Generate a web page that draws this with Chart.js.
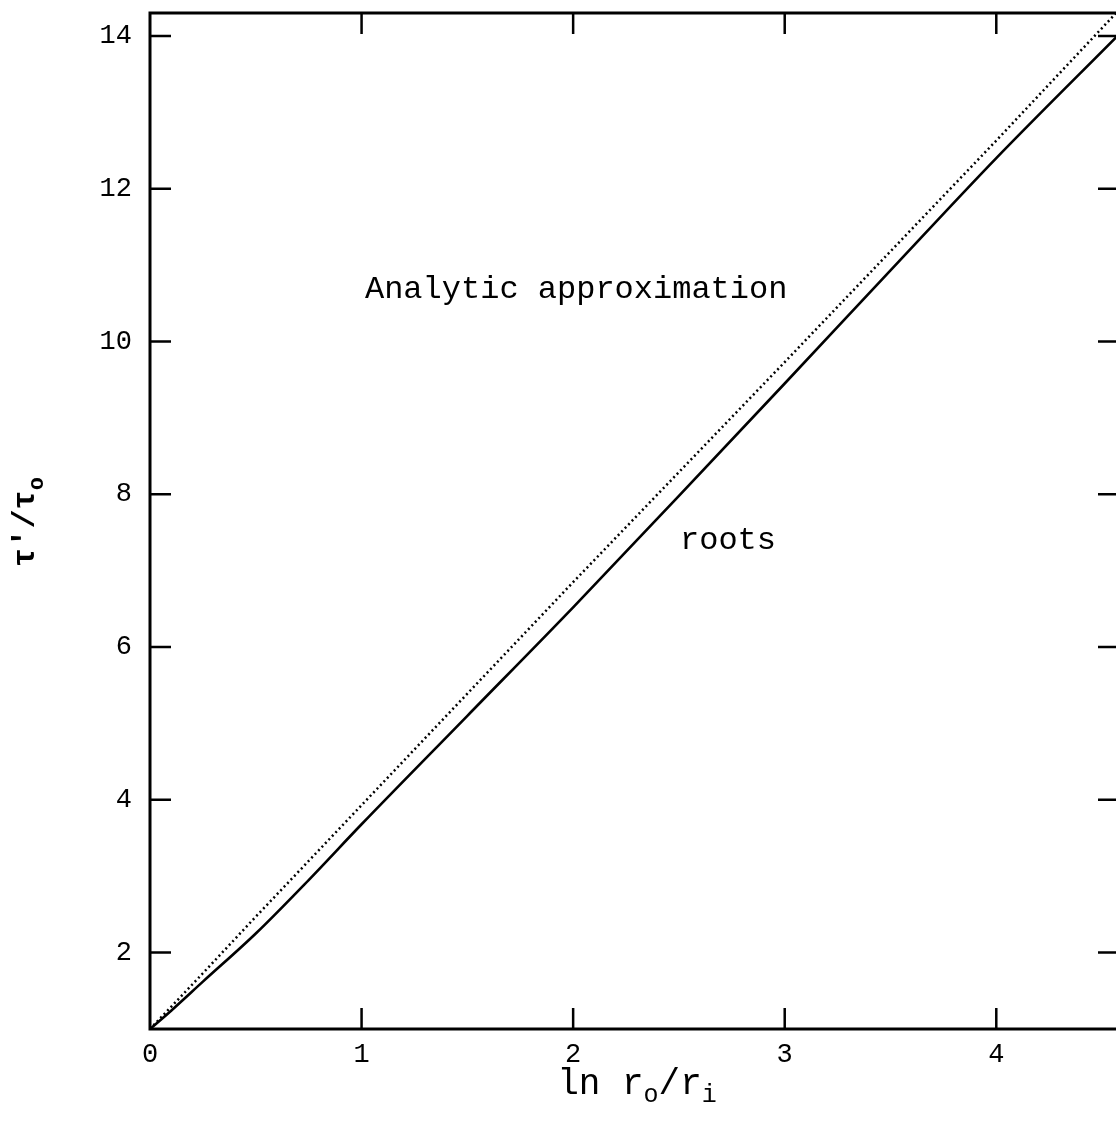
<!DOCTYPE html>
<html>
<head>
<meta charset="utf-8">
<script src="https://cdn.jsdelivr.net/npm/chart.js@4.4.1/dist/chart.umd.min.js"></script>
<style>
  html, body { margin: 0; padding: 0; background: #fff; overflow: hidden; }
  #wrap { width: 1130px; height: 1136px; }
</style>
</head>
<body>
<div id="wrap"><canvas id="tauChart" width="1130" height="1136"></canvas></div>
<script>
// ln(ro/ri) sample points shared by both curves
const lnRatio = [0, 0.1, 0.25, 0.5, 0.75, 1.0, 1.5, 2.0, 2.5, 3.0, 3.5, 4.0, 4.58];
// tau'/tau_o from the roots
const rootsTau = [1, 1.24, 1.62, 2.25, 2.95, 3.68, 5.10, 6.52, 7.98, 9.45, 10.93, 12.40, 14.02];
// tau'/tau_o from the analytic approximation
const approxTau = [1, 1.29, 1.73, 2.47, 3.20, 3.93, 5.39, 6.85, 8.29, 9.73, 11.18, 12.63, 14.34];

const xTickLabels = [0, 1, 2, 3, 4];
const yTickLabels = [2, 4, 6, 8, 10, 12, 14];

const MONO = "'Liberation Mono', 'Courier New', monospace";

const toPoints = (ys) => lnRatio.map((x, i) => ({ x: x, y: ys[i] }));

// frame, inward ticks on all four sides, and text labels
const framePlugin = {
  id: "frame",
  afterDatasetsDraw(chart) {
    const { ctx, chartArea: a, scales } = chart;
    const xs = scales.x, ys = scales.y;
    const tickLen = 21;
    ctx.save();
    ctx.strokeStyle = "#000";
    ctx.lineWidth = 3;
    ctx.strokeRect(a.left, a.top, a.right - a.left, a.bottom - a.top);

    ctx.lineWidth = 2.5;
    ctx.beginPath();
    xTickLabels.forEach((v) => {
      if (v === 0) return;
      const px = xs.getPixelForValue(v);
      ctx.moveTo(px, a.bottom); ctx.lineTo(px, a.bottom - tickLen);
      ctx.moveTo(px, a.top); ctx.lineTo(px, a.top + tickLen);
    });
    yTickLabels.forEach((v) => {
      const py = ys.getPixelForValue(v);
      ctx.moveTo(a.left, py); ctx.lineTo(a.left + tickLen, py);
      ctx.moveTo(a.right, py); ctx.lineTo(a.right - tickLen, py);
    });
    ctx.stroke();

    // curve labels
    ctx.fillStyle = "#000";
    ctx.font = "32px " + MONO;
    ctx.textAlign = "left";
    ctx.textBaseline = "middle";
    ctx.fillText("Analytic approximation", xs.getPixelForValue(1.016), ys.getPixelForValue(10.68));
    ctx.fillText("roots", xs.getPixelForValue(2.505), ys.getPixelForValue(7.39));

    // axis titles with subscripts
    drawParts(ctx, [["ln r", false], ["o", true], ["/r", false], ["i", true]],
      637, 1084, "36px " + MONO, "25px " + MONO);

    ctx.save();
    ctx.translate(26, 522);
    ctx.rotate(-Math.PI / 2);
    drawParts(ctx, [["\u03c4'/\u03c4", false], ["o", true]],
      0, 0, "bold 32px " + MONO, "bold 22px " + MONO);
    ctx.restore();

    ctx.restore();
  }
};

function drawParts(ctx, parts, cx, cy, mainFont, subFont) {
  let total = 0;
  const widths = parts.map(([t, sub]) => {
    ctx.font = sub ? subFont : mainFont;
    const w = ctx.measureText(t).width;
    total += w;
    return w;
  });
  let x = cx - total / 2;
  ctx.textAlign = "left";
  ctx.textBaseline = "middle";
  parts.forEach(([t, sub], i) => {
    ctx.font = sub ? subFont : mainFont;
    ctx.fillText(t, x, sub ? cy + 11 : cy);
    x += widths[i];
  });
}

new Chart(document.getElementById("tauChart"), {
  type: "scatter",
  data: {
    datasets: [
      {
        label: "roots",
        data: toPoints(rootsTau),
        showLine: true,
        borderColor: "#000",
        borderWidth: 2.6,
        pointRadius: 0,
        cubicInterpolationMode: "monotone",
      },
      {
        label: "Analytic approximation",
        data: toPoints(approxTau),
        showLine: true,
        borderColor: "#000",
        borderWidth: 2.5,
        borderDash: [2, 3],
        pointRadius: 0,
        tension: 0,
      },
    ],
  },
  options: {
    responsive: false,
    animation: false,
    layout: { padding: { top: 13, right: 11, left: 0, bottom: 0 } },
    plugins: { legend: { display: false }, tooltip: { enabled: false } },
    scales: {
      x: {
        type: "linear",
        min: 0,
        max: 4.58,
        grid: { display: false, drawTicks: false },
        border: { display: false },
        afterBuildTicks: (s) => { s.ticks = xTickLabels.map((v) => ({ value: v })); },
        afterFit: (s) => { s.height = 1136 - 1029; s.paddingLeft = 0; s.paddingRight = 0; },
        ticks: {
          color: "#000",
          padding: 10,
          maxRotation: 0,
          font: { family: MONO, size: 27 },
        },
      },
      y: {
        type: "linear",
        min: 1,
        max: 14.3,
        grid: { display: false, drawTicks: false },
        border: { display: false },
        afterBuildTicks: (s) => { s.ticks = yTickLabels.map((v) => ({ value: v })); },
        afterFit: (s) => { s.width = 150; s.paddingTop = 0; s.paddingBottom = 0; },
        ticks: {
          color: "#000",
          padding: 18,
          font: { family: MONO, size: 27 },
        },
      },
    },
  },
  plugins: [framePlugin],
});
</script>
</body>
</html>
